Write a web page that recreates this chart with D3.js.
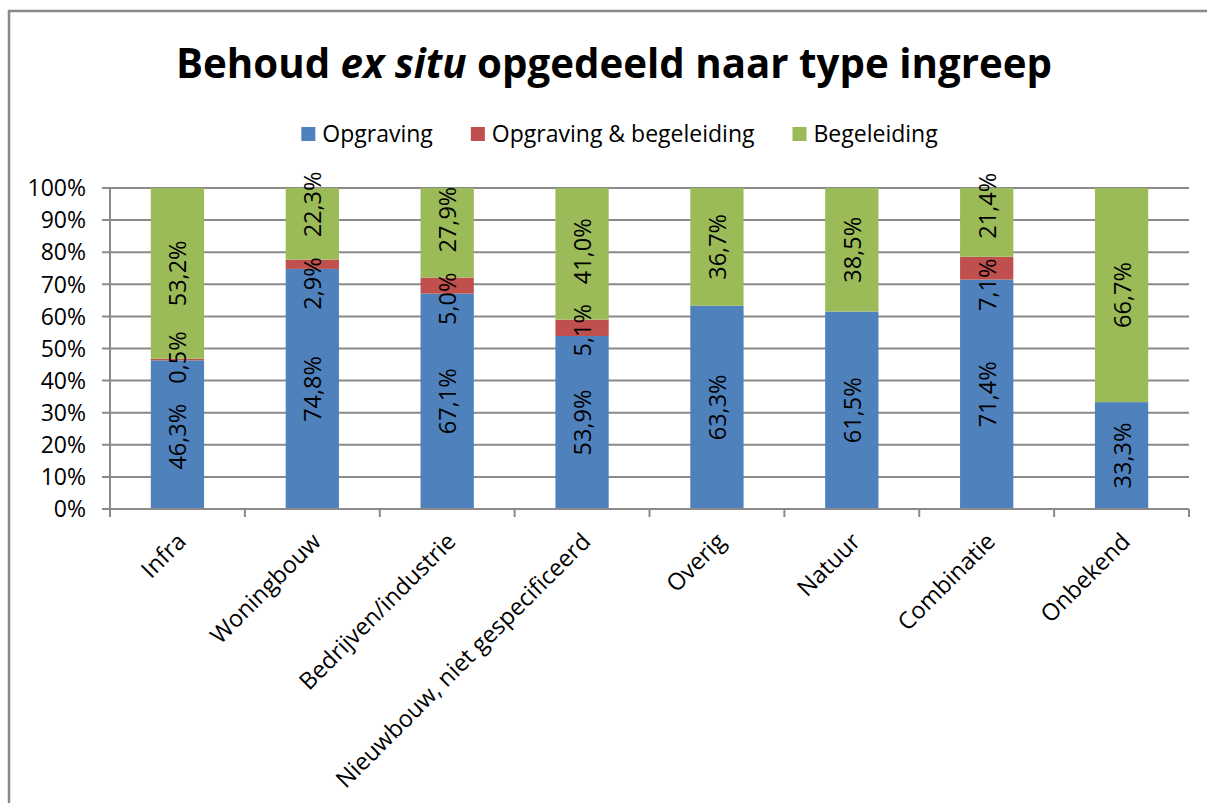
<!DOCTYPE html>
<html>
<head>
<meta charset="utf-8">
<script src="https://cdn.jsdelivr.net/npm/d3@7"></script>
<style>
  html, body { margin: 0; padding: 0; background: #fff; }
  text { font-family: "Open Sans", "Noto Sans", sans-serif; }
</style>
</head>
<body>
<svg id="chart" width="1207" height="803"></svg>
<script>
// ---- data ----
const categories = ["Infra", "Woningbouw", "Bedrijven/industrie", "Nieuwbouw, niet gespecificeerd", "Overig", "Natuur", "Combinatie", "Onbekend"];
const seriesNames = ["Opgraving", "Opgraving & begeleiding", "Begeleiding"];
const opgraving = [46.3, 74.8, 67.1, 53.9, 63.3, 61.5, 71.4, 33.3];
const opgravingBegeleiding = [0.5, 2.9, 5.0, 5.1, 0, 0, 7.1, 0];
const begeleiding = [53.2, 22.3, 27.9, 41.0, 36.7, 38.5, 21.4, 66.7];
const yTicks = [0, 0.1, 0.2, 0.3, 0.4, 0.5, 0.6, 0.7, 0.8, 0.9, 1.0];
const colors = ["#4F81BD", "#C0504D", "#9BBB59"];

const svg = d3.select("#chart");
const W = 1207, H = 803;
const margin = { left: 110, right: 18, top: 188, bottom: 294 };
const x0 = margin.left, x1 = W - margin.right, yTop = margin.top, yBot = H - margin.bottom;

svg.append("rect").attr("width", W).attr("height", H).attr("fill", "#fff");
// chart border
svg.append("rect").attr("x", 9).attr("y", 11).attr("width", 1400).attr("height", 1000)
  .attr("fill", "none").attr("stroke", "#898989").attr("stroke-width", 2.5);

// title
const title = svg.append("text").attr("x", 614).attr("y", 78).attr("text-anchor", "middle")
  .attr("font-weight", "bold").attr("font-size", 42).attr("fill", "#000");
title.append("tspan").text("Behoud ");
title.append("tspan").attr("font-style", "italic").text("ex situ");
title.append("tspan").text(" opgedeeld naar type ingreep");
{
  const w = title.node().getComputedTextLength();
  if (w > 876) title.attr("textLength", 876).attr("lengthAdjust", "spacingAndGlyphs");
}

// table rows
const rows = categories.map((c, i) => ({ cat: c, s0: opgraving[i], s1: opgravingBegeleiding[i], s2: begeleiding[i] }));
const keys = ["s0", "s1", "s2"];
const stack = d3.stack().keys(keys).offset(d3.stackOffsetExpand);
const stacked = stack(rows);

const x = d3.scaleBand().domain(categories).range([x0, x1]).padding(0);
const y = d3.scaleLinear().domain([0, 1]).range([yBot, yTop]);
const barW = x.bandwidth() * 0.395;

// gridlines
svg.append("g").selectAll("line").data(yTicks).join("line")
  .attr("x1", x0 - 8).attr("x2", x1)
  .attr("y1", d => y(d)).attr("y2", d => y(d))
  .attr("stroke", "#8a8a8a").attr("stroke-width", 2);

// y labels
svg.append("g").selectAll("text").data(yTicks).join("text")
  .attr("x", 86).attr("y", d => y(d)).attr("dy", "0.36em")
  .attr("text-anchor", "end").attr("font-size", 23).attr("fill", "#000")
  .text(d => Math.round(d * 100) + "%");

// bars
stacked.forEach((layer, si) => {
  svg.append("g").selectAll("rect").data(layer).join("rect")
    .attr("x", d => x(d.data.cat) + x.bandwidth() / 2 - barW / 2)
    .attr("width", barW)
    .attr("y", d => y(d[1]))
    .attr("height", d => Math.max(0, y(d[0]) - y(d[1])))
    .attr("fill", colors[si]);
});

// axes lines
svg.append("line").attr("x1", x0).attr("x2", x0).attr("y1", yTop).attr("y2", yBot)
  .attr("stroke", "#8a8a8a").attr("stroke-width", 2);
svg.append("line").attr("x1", x0).attr("x2", x1).attr("y1", yBot).attr("y2", yBot)
  .attr("stroke", "#8a8a8a").attr("stroke-width", 2);
const bounds = categories.map(c => x(c)).concat([x1]);
svg.append("g").selectAll("line").data(bounds).join("line")
  .attr("x1", d => d).attr("x2", d => d).attr("y1", yBot).attr("y2", yBot + 8)
  .attr("stroke", "#8a8a8a").attr("stroke-width", 2);

// category labels
svg.append("g").selectAll("text").data(categories).join("text")
  .attr("transform", d => `translate(${x(d) + x.bandwidth() / 2 + 10},${yBot + 34}) rotate(-45)`)
  .attr("text-anchor", "end").attr("font-size", 23.5).attr("fill", "#000")
  .text(d => d);

// data labels with simple collision avoidance per bar
const fmt = v => d3.format(".1f")(v).replace(".", ",") + "%";
const labelG = svg.append("g");
const GAP = 20;
rows.forEach((r, ci) => {
  const items = [];
  keys.forEach((k, si) => {
    if (r[k] > 0) {
      const seg = stacked[si][ci];
      const t = labelG.append("text")
        .attr("text-anchor", "middle").attr("dominant-baseline", "central")
        .attr("font-size", 23.5).attr("fill", "#000").text(fmt(r[k]));
      items.push({ t, c: (y(seg[0]) + y(seg[1])) / 2, h: t.node().getComputedTextLength() / 2 });
    }
  });
  // items ordered bottom (larger y) to top
  for (let it = 0; it < 60; it++) {
    for (let i = 0; i < items.length - 1; i++) {
      const a = items[i], b = items[i + 1];
      const need = a.h + b.h + GAP;
      const d = a.c - b.c;
      if (d < need) { const s = (need - d) / 2; a.c += s; b.c -= s; }
    }
  }
  const cx = x(r.cat) + x.bandwidth() / 2;
  items.forEach(o => o.t.attr("transform", `translate(${cx},${o.c}) rotate(-90)`));
});

// legend
const legend = svg.append("g");
let lx = 0;
seriesNames.forEach((n, i) => {
  const g = legend.append("g").attr("transform", `translate(${lx},0)`);
  g.append("rect").attr("x", 0).attr("y", -14.5).attr("width", 14).attr("height", 14).attr("fill", colors[i]);
  const t = g.append("text").attr("x", 21).attr("y", 0).attr("font-size", 23).attr("fill", "#000").text(n);
  const w = 21 + t.node().getComputedTextLength();
  lx += w + 38;
});
const legW = lx - 38;
legend.attr("transform", `translate(${619.5 - legW / 2},141.5)`);
</script>
</body>
</html>
